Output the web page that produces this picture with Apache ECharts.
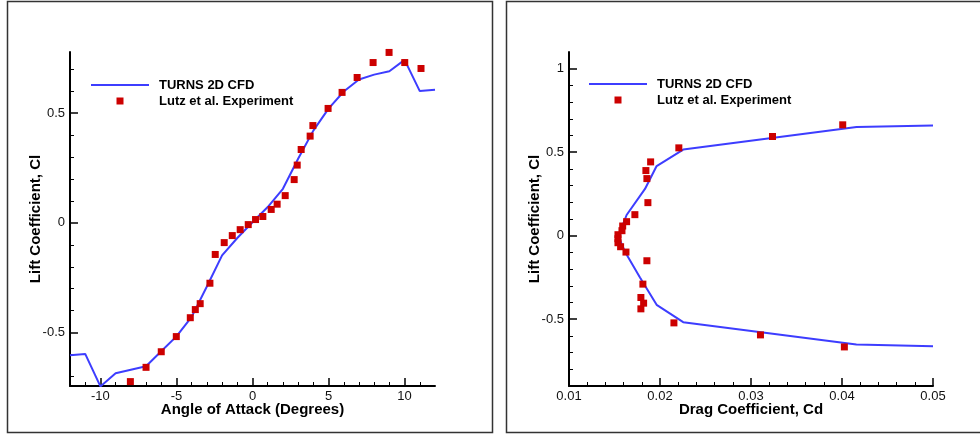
<!DOCTYPE html>
<html>
<head>
<meta charset="utf-8">
<title>Lift and drag polars</title>
<script src="https://cdn.jsdelivr.net/npm/echarts@6/dist/echarts.min.js"></script>
<style>
  html, body { margin: 0; padding: 0; background: #fff; }
  #chart { width: 980px; height: 436px; }
</style>
</head>
<body>
<div id="chart"></div>
<script>
// Lift curve: TURNS 2D CFD prediction vs angle of attack
const cfdAlpha = [-12, -11, -10, -9, -8, -7, -6, -5, -4, -3, -2, -1, 0, 1, 2, 3, 4, 5, 6, 7, 8, 9, 10, 11, 12];
const cfdCl = [-0.603, -0.597, -0.745, -0.685, -0.669, -0.653, -0.585, -0.517, -0.428, -0.29, -0.148, -0.069, 0.003, 0.072, 0.155, 0.292, 0.42, 0.52, 0.598, 0.653, 0.675, 0.69, 0.742, 0.6, 0.606];

// Lift curve: Lutz et al. wind-tunnel measurements
const expAlpha = [-8.03, -7.0, -6.0, -5.01, -4.09, -3.76, -3.44, -2.8, -2.45, -1.86, -1.33, -0.81, -0.28, 0.2, 0.68, 1.23, 1.62, 2.15, 2.74, 2.94, 3.2, 3.79, 3.97, 4.97, 5.89, 6.88, 7.93, 8.98, 10.01, 11.08];
const expCl = [-0.723, -0.658, -0.587, -0.518, -0.432, -0.395, -0.368, -0.275, -0.144, -0.09, -0.058, -0.031, -0.008, 0.015, 0.029, 0.061, 0.085, 0.124, 0.197, 0.263, 0.334, 0.395, 0.443, 0.521, 0.594, 0.662, 0.73, 0.776, 0.73, 0.703];

// Drag polar: CFD
const polarCfdCd = [0.0500, 0.0416, 0.02255, 0.01963, 0.01835, 0.01633, 0.0159, 0.01552, 0.01615, 0.0178, 0.01963, 0.02255, 0.04158, 0.0500];
const polarCfdCl = [0.660, 0.651, 0.516, 0.417, 0.28, 0.124, 0.064, -0.016, -0.096, -0.25, -0.414, -0.518, -0.652, -0.662];

// Drag polar: experiment
const polarExpCd = [0.04008, 0.03236, 0.02207, 0.01897, 0.01845, 0.01856, 0.01867, 0.01724, 0.01633, 0.0159, 0.01582, 0.01538, 0.01538, 0.01538, 0.01567, 0.01626, 0.01856, 0.01812, 0.0179, 0.0182, 0.0179, 0.02153, 0.03104, 0.04026];
const polarExpCl = [0.664, 0.594, 0.526, 0.442, 0.390, 0.342, 0.198, 0.126, 0.084, 0.058, 0.030, 0.006, -0.018, -0.042, -0.066, -0.098, -0.150, -0.290, -0.370, -0.404, -0.438, -0.522, -0.594, -0.666];

// Major tick positions
const alphaTicks = [-10, -5, 0, 5, 10];
const liftTicksLeft = [-0.5, 0, 0.5];
const liftTicksRight = [-0.5, 0, 0.5, 1];

const zip = (xs, ys) => xs.map((x, i) => [x, ys[i]]);

const LINE_BLUE = '#3d3dff';
const MARK_RED = '#cc0000';
const FONT = '"Liberation Sans", Arial, sans-serif';

function valueAxis(opts) {
  return Object.assign({
    type: 'value',
    nameLocation: 'middle',
    nameMoveOverlap: false,
    nameTextStyle: { fontFamily: FONT, fontWeight: 'bold', fontSize: 15, color: '#000' },
    axisLine: { show: true, onZero: false, lineStyle: { color: '#000', width: 2 } },
    axisTick: { show: true, inside: true, length: 8, lineStyle: { color: '#000', width: 1.5 } },
    minorTick: { show: true, splitNumber: 5, length: 4, lineStyle: { color: '#000', width: 1 } },
    axisLabel: { fontFamily: FONT, fontSize: 13, color: '#111' },
    splitLine: { show: false },
    minorSplitLine: { show: false }
  }, opts);
}

// Fixed-step axis whose range does not start on a step: ticks and labels only at the given values
function withTicks(axis, ticks, interval, margin) {
  axis.minInterval = interval;
  axis.maxInterval = interval;
  axis.axisTick = Object.assign({}, axis.axisTick, { customValues: ticks });
  axis.axisLabel = Object.assign({}, axis.axisLabel, { customValues: ticks, margin: margin });
  return axis;
}

// Legend entries: a flat bar for the CFD line, a small square for the measurements
const legendData = [
  { name: 'TURNS 2D CFD', icon: 'path://M0,0h58v2h-58z' },
  { name: 'Lutz et al. Experiment', icon: 'path://M0,0h1v1h-1z' }
];

const legendBase = {
  orient: 'vertical',
  padding: 0,
  itemWidth: 58,
  itemHeight: 7,
  itemGap: 2,
  symbolKeepAspect: true,
  selectedMode: false,
  textStyle: { fontFamily: FONT, fontWeight: 'bold', fontSize: 13, color: '#000', lineHeight: 14, padding: [0, 0, 0, 5] },
  data: legendData
};

const option = {
  animation: false,
  backgroundColor: '#fff',
  graphic: [
    { type: 'rect', shape: { x: 7.5, y: 1.5, width: 485, height: 431 }, style: { fill: 'none', stroke: '#333', lineWidth: 1.5 }, silent: true },
    { type: 'rect', shape: { x: 506.5, y: 1.5, width: 480, height: 431 }, style: { fill: 'none', stroke: '#333', lineWidth: 1.5 }, silent: true }
  ],
  grid: [
    { left: 70, top: 52, width: 365, height: 334 },
    { left: 569, top: 52, width: 364, height: 334 }
  ],
  legend: [
    Object.assign({ left: 91, top: 78 }, legendBase),
    Object.assign({ left: 589, top: 77 }, legendBase)
  ],
  xAxis: [
    withTicks(valueAxis({ gridIndex: 0, min: -12, max: 12, name: 'Angle of Attack (Degrees)', nameGap: 16 }), alphaTicks, 5, 4),
    valueAxis({ gridIndex: 1, min: 0.01, max: 0.05, interval: 0.01, name: 'Drag Coefficient, Cd', nameGap: 16,
      axisLabel: { fontFamily: FONT, fontSize: 13, color: '#111', margin: 4 } })
  ],
  yAxis: [
    withTicks(valueAxis({ gridIndex: 0, min: -0.743, max: 0.778, name: 'Lift Coefficient, Cl', nameGap: 27 }), liftTicksLeft, 0.5, 5),
    withTicks(valueAxis({ gridIndex: 1, min: -0.9, max: 1.1, name: 'Lift Coefficient, Cl', nameGap: 27 }), liftTicksRight, 0.5, 5)
  ],
  series: [
    {
      name: 'TURNS 2D CFD', type: 'line', xAxisIndex: 0, yAxisIndex: 0,
      data: zip(cfdAlpha, cfdCl), symbol: 'none', showSymbol: false,
      lineStyle: { color: LINE_BLUE, width: 2 }, itemStyle: { color: LINE_BLUE }, z: 2
    },
    {
      name: 'Lutz et al. Experiment', type: 'scatter', xAxisIndex: 0, yAxisIndex: 0,
      data: zip(expAlpha, expCl), symbol: 'rect', symbolSize: 7,
      itemStyle: { color: MARK_RED, opacity: 1 }, z: 3
    },
    {
      name: 'TURNS 2D CFD', type: 'line', xAxisIndex: 1, yAxisIndex: 1,
      data: zip(polarCfdCd, polarCfdCl), symbol: 'none', showSymbol: false,
      lineStyle: { color: LINE_BLUE, width: 2 }, itemStyle: { color: LINE_BLUE }, z: 2
    },
    {
      name: 'Lutz et al. Experiment', type: 'scatter', xAxisIndex: 1, yAxisIndex: 1,
      data: zip(polarExpCd, polarExpCl), symbol: 'rect', symbolSize: 7,
      itemStyle: { color: MARK_RED, opacity: 1 }, z: 3
    }
  ]
};

const chart = echarts.init(document.getElementById('chart'), null, { renderer: 'canvas' });
chart.setOption(option);
</script>
</body>
</html>
